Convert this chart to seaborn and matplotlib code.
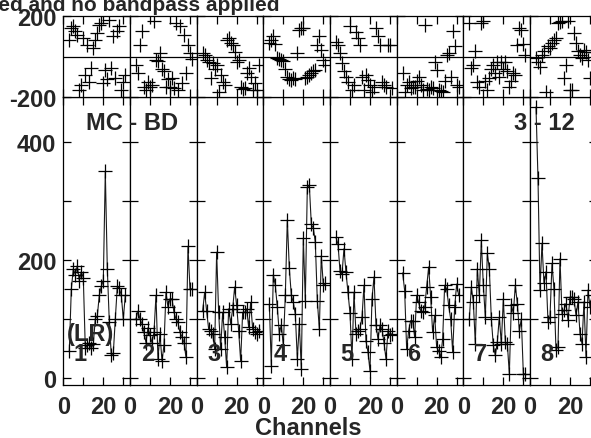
import matplotlib
matplotlib.use("Agg")
import matplotlib.pyplot as plt
import pandas as pd
import seaborn as sns

channels = list(range(3, 32))
panels = [1, 2, 3, 4, 5, 6, 7, 8]

amp_1 = [46, 150, 185, 175, 190, 165, 180, 170, 50, 55, 60, 50, 58, 100, 105, 140, 155, 165, 350, 185, 95, 38, 42, 100, 155, 152, 140, 100, 140]
amp_2 = [100, 113, 100, 92, 77, 60, 85, 72, 60, 77, 140, 32, 75, 29, 55, 145, 120, 134, 134, 111, 100, 94, 77, 70, 60, 35, 223, 151, 151]
amp_3 = [113, 145, 113, 83, 80, 75, 49, 213, 111, 49, 111, 70, 18, 117, 92, 117, 154, 123, 80, 29, 111, 111, 117, 86, 128, 83, 77, 75, 80]
amp_4 = [125, 21, 175, 157, 120, 75, 90, 55, 140, 268, 186, 140, 128, 108, 32, 92, 15, 237, 131, 323, 327, 260, 254, 230, 131, 83, 207, 157, 160]
amp_5 = [238, 227, 182, 176, 219, 179, 145, 110, 32, 145, 75, 80, 83, 103, 157, 62, 44, 12, 134, 171, 90, 66, 89, 83, 60, 32, 80, 72, 75]
amp_6 = [178, 148, 49, 80, 97, 97, 69, 140, 128, 114, 111, 120, 154, 188, 137, 77, 106, 52, 46, 35, 66, 157, 151, 123, 100, 44, 120, 159, 140]
amp_7 = [100, 154, 129, 58, 185, 140, 233, 157, 103, 211, 185, 100, 55, 38, 61, 103, 58, 134, 61, 58, 7, 123, 110, 157, 126, 80, 100, 7, 7]
amp_8 = [459, 338, 149, 228, 160, 180, 95, 103, 194, 150, 47, 53, 202, 109, 115, 126, 98, 137, 137, 134, 106, 129, 75, 58, 129, 36, 149, 120, 140]

phase_1 = [83, 140, 149, 124, 107, -165, -140, 91, -91, 58, -124, -58, 41, 83, 116, 157, 165, -132, -66, -110, 182, -58, 99, -107, 124, 149, -165, -124, -90]
phase_2 = [-41, -83, 58, 127, -149, -165, -124, -150, -140, 173, -17, -20, 17, -60, -74, -149, -110, -149, -107, -157, 165, -165, 149, -132, 107, -83, 58, 17, -10]
phase_3 = [17, 8, -17, -25, -107, -33, -60, -41, -173, -90, -124, -140, 83, 90, 66, 58, 20, -25, -17, -149, -160, -157, -83, -58, -100, -165, -130, -165, -41]
phase_4 = [66, 80, 99, 60, -8, -10, -17, -20, -60, -99, -110, -116, -107, -110, 17, 132, 140, 140, -107, -100, -91, -80, -74, -66, 58, 100, 30, -17, -40]
phase_5 = [70, 58, 17, -33, -74, -100, -124, 149, -165, -140, 120, 91, 58, -99, -165, -91, -116, -140, -173, -150, 140, 100, 58, -124, -140, -149, 58, 58, -157]
phase_6 = [-83, -173, -140, -124, -157, -150, -149, -120, -99, -140, -165, 157, -160, -165, -150, -157, -25, -66, -165, -170, -173, -120, 8, 17, -99, 124, 50, -140, -149]
phase_7 = [165, -58, -40, 25, -124, -150, 165, 173, -120, -165, -107, -60, -41, -80, -25, -100, -25, -60, -25, -74, -149, -120, -83, -91, 58, 140, 132, 60, 8]
phase_8 = [-8, -25, -50, 8, 25, -173, 50, 40, 66, 80, 91, 165, 170, 173, -107, -41, 173, -165, -165, 116, 66, 25, 8, -8, 33, 20, -17, -107, 20]

amps = [amp_1, amp_2, amp_3, amp_4, amp_5, amp_6, amp_7, amp_8]
phases = [phase_1, phase_2, phase_3, phase_4, phase_5, phase_6, phase_7, phase_8]

rows = []
for p, a, ph in zip(panels, amps, phases):
    for c, av, pv in zip(channels, a, ph):
        rows.append({"panel": p, "channel": c, "amp": av, "phase": pv})
df = pd.DataFrame(rows)

sns.set_style("white")
plt.rcParams["font.family"] = ["Liberation Sans", "DejaVu Sans"]
plt.rcParams["font.weight"] = "bold"

W, H = 591, 439
fig = plt.figure(figsize=(W / 100, H / 100), dpi=100)

left0 = 63.3
pw = 66.67
amp_bottom, amp_top = 386, 98
ph_bottom, ph_top = 98, 17
fs = 17


def fx(px):
    return px / W


def fy(py):
    return 1 - py / H


def style_axis(ax):
    for s in ax.spines.values():
        s.set_color("black")
        s.set_linewidth(0.9)
    ax.tick_params(direction="in", length=6, width=0.9, color="black",
                   top=True, bottom=True, left=True, right=True,
                   labelsize=fs)
    ax.set_xlabel("")
    ax.set_ylabel("")


for i, p in enumerate(panels):
    sub = df[df["panel"] == p]
    x0 = fx(left0 + pw * i)
    w = fx(pw)

    ax_a = fig.add_axes([x0, fy(amp_bottom), w, fy(amp_top) - fy(amp_bottom)])
    sns.lineplot(data=sub, x="channel", y="amp", ax=ax_a, color="#1a1a1a",
                 linewidth=0.8, marker="+", markersize=10, markeredgewidth=0.9,
                 markeredgecolor="black", estimator=None, sort=False)
    ax_a.set_xlim(0, 33.33)
    ax_a.set_ylim(-12, 476)
    ax_a.set_xticks([0, 10, 20, 30])
    ax_a.set_xticklabels(["0", "", "20", ""])
    ax_a.set_yticks([0, 100, 200, 300, 400])
    if i == 0:
        ax_a.set_yticklabels(["0", "", "200", "", "400"])
    else:
        ax_a.set_yticklabels([])
    style_axis(ax_a)
    ax_a.tick_params(axis="x", pad=7)
    ax_a.tick_params(axis="y", pad=5)
    ax_a.text(0.16, 0.108, str(p), transform=ax_a.transAxes, fontsize=fs,
              fontweight="bold", ha="left", va="center")

    ax_p = fig.add_axes([x0, fy(ph_bottom), w, fy(ph_top) - fy(ph_bottom)])
    sns.scatterplot(data=sub, x="channel", y="phase", ax=ax_p, color="black",
                    marker="+", s=90, linewidth=0.9)
    ax_p.axhline(0, color="black", linewidth=0.9)
    ax_p.set_xlim(0, 33.33)
    ax_p.set_ylim(-200, 200)
    ax_p.set_xticks([0, 10, 20, 30])
    ax_p.set_xticklabels([])
    ax_p.set_yticks([-200, 200])
    if i == 0:
        ax_p.set_yticklabels(["-200", "200"])
    else:
        ax_p.set_yticklabels([])
    style_axis(ax_p)
    ax_p.tick_params(axis="y", pad=5)

    if i == 0:
        ax_a.text(0.05, 0.18, "(LR)", transform=ax_a.transAxes, fontsize=fs,
                  fontweight="bold", ha="left", va="center")

fig.text(fx(132.5), fy(123), "MC - BD", fontsize=fs, fontweight="bold",
         ha="center", va="center")
fig.text(fx(544), fy(123), "3 - 12", fontsize=fs, fontweight="bold",
         ha="center", va="center")
fig.text(fx(308.5), fy(435), "Channels", fontsize=fs, fontweight="bold",
         ha="center", va="baseline")
fig.text(fx(279), fy(11), "Uncalibrated and no bandpass applied", fontsize=15,
         fontweight="bold", ha="right", va="baseline")

fig.savefig("out.png", dpi=100)
